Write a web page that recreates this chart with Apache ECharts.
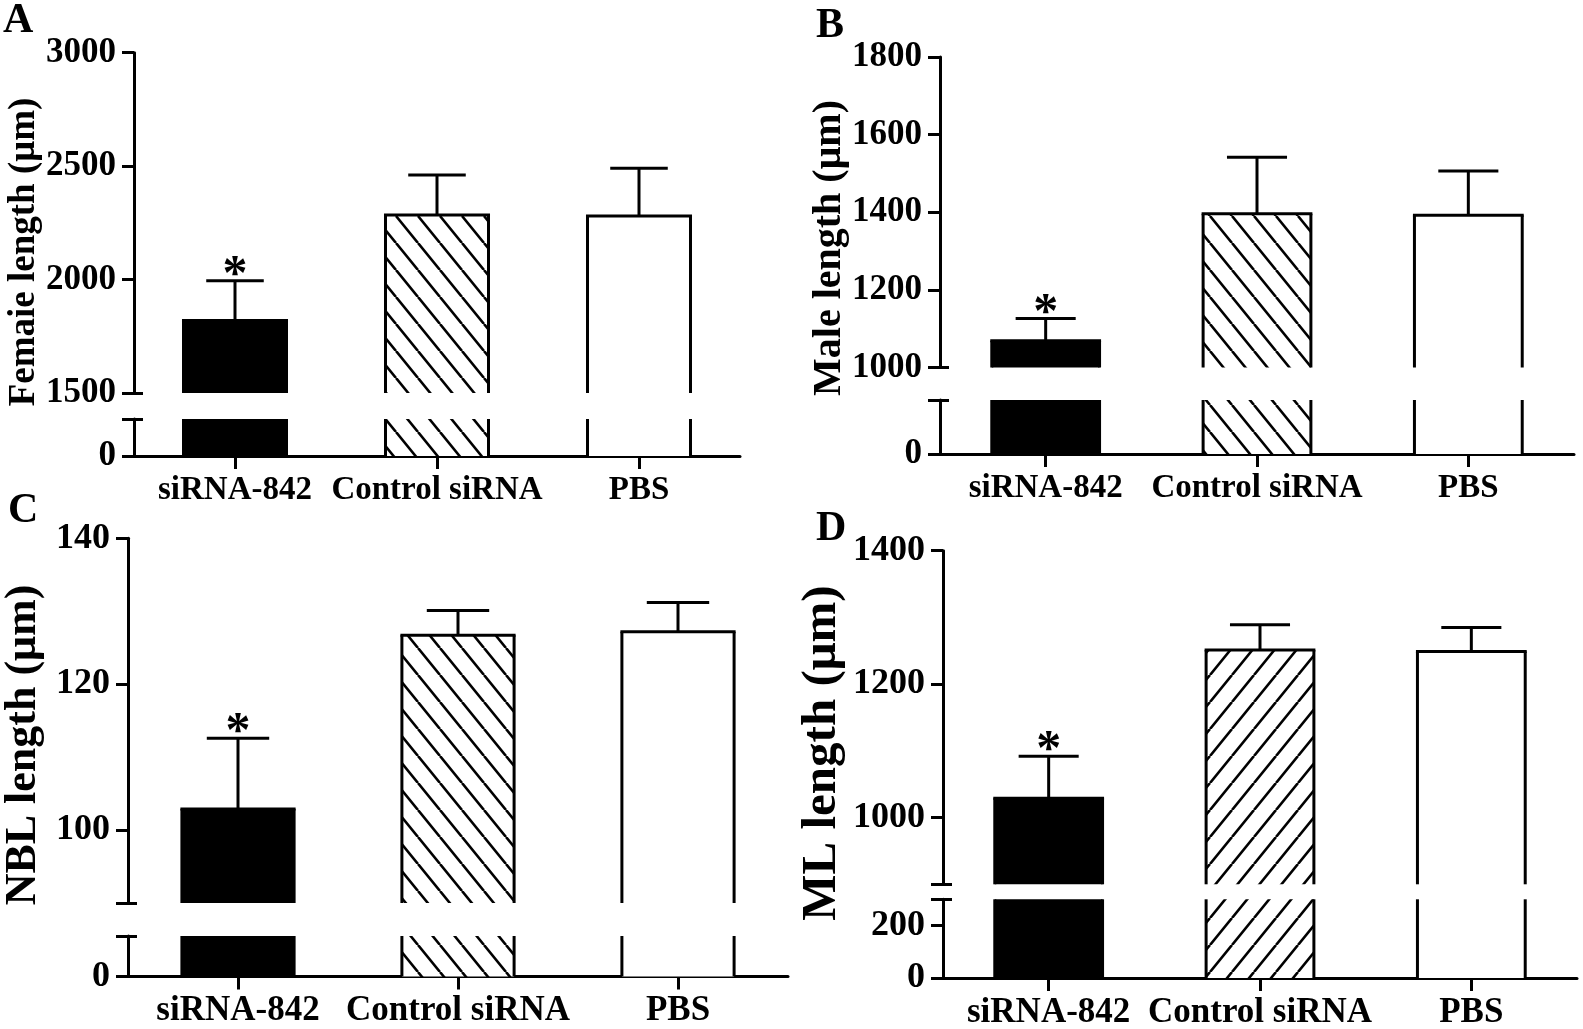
<!DOCTYPE html>
<html><head><meta charset="utf-8">
<script src="https://cdn.jsdelivr.net/npm/echarts@6/dist/echarts.min.js"></script>
<style>html,body{margin:0;padding:0;background:#fff}#c{width:1583px;height:1029px}</style>
</head><body><div id="c"></div>
<script>
// ---------- data ----------
const categories = ['siRNA-842', 'Control siRNA', 'PBS'];
const significance = ['*', '', ''];

const femaleMean = [1820, 2285, 2280];
const femaleSem  = [175, 176, 211];
const femaleUpperTicks = [1500, 2000, 2500, 3000];
const femaleUpperLabels = [1500, 2000, 2500, 3000];
const femaleLowerTicks = [0, 200];
const femaleLowerLabels = [0];

const maleMean = [1069, 1396, 1392];
const maleSem  = [57, 146, 114];
const maleUpperTicks = [1000, 1200, 1400, 1600, 1800];
const maleUpperLabels = [1000, 1200, 1400, 1600, 1800];
const maleLowerTicks = [0, 200];
const maleLowerLabels = [0];

const nblMean = [102.9, 126.7, 127.2];
const nblSem  = [9.7, 3.4, 4.0];
const nblUpperTicks = [90, 100, 120, 140];
const nblUpperLabels = [100, 120, 140];
const nblLowerTicks = [0, 10];
const nblLowerLabels = [0];

const mlMean = [1029, 1251, 1249];
const mlSem  = [63, 38, 36];
const mlUpperTicks = [900, 1000, 1200, 1400];
const mlUpperLabels = [1000, 1200, 1400];
const mlLowerTicks = [0, 200, 300];
const mlLowerLabels = [0, 200];

// ---------- styling ----------
const FONT = '"Liberation Serif", "Times New Roman", serif';

function hatch(dir) {
  const w = 22, h = 27;
  const c = document.createElement('canvas');
  c.width = w; c.height = h;
  const g = c.getContext('2d');
  g.fillStyle = '#fff'; g.fillRect(0, 0, w, h);
  g.strokeStyle = '#000'; g.lineWidth = 2.6;
  for (let k = -1; k <= 1; k++) {
    g.beginPath();
    if (dir === 'back') { g.moveTo(k * w, 0); g.lineTo(k * w + w, h); }
    else { g.moveTo(k * w, h); g.lineTo(k * w + w, 0); }
    g.stroke();
  }
  return c;
}
const backHatch = hatch('back');
const fwdHatch = hatch('fwd');

const panels = [
  {letter: 'A', title: 'Femaie length (μm)', mean: femaleMean, sem: femaleSem,
   up: femaleUpperTicks, upL: femaleUpperLabels, lo: femaleLowerTicks, loL: femaleLowerLabels,
   left: 134, width: 606, upTop: 52.7, upBottom: 393, loTop: 419, loBottom: 456,
   titleX: 24, titleY: 252, titleSize: 37, letterX: 3, letterY: 21, catMargin: 18,
   tickFont: 35, catFont: 33, hatchImg: backHatch},
  {letter: 'B', title: 'Male length (μm)', mean: maleMean, sem: maleSem,
   up: maleUpperTicks, upL: maleUpperLabels, lo: maleLowerTicks, loL: maleLowerLabels,
   left: 940, width: 634, upTop: 57, upBottom: 367.5, loTop: 400, loBottom: 454,
   titleX: 830, titleY: 248, titleSize: 40, letterX: 816, letterY: 26, catMargin: 18,
   tickFont: 35, catFont: 33, hatchImg: backHatch},
  {letter: 'C', title: 'NBL length (μm)', mean: nblMean, sem: nblSem,
   up: nblUpperTicks, upL: nblUpperLabels, lo: nblLowerTicks, loL: nblLowerLabels,
   left: 128, width: 660, upTop: 538.3, upBottom: 903, loTop: 936, loBottom: 976.5,
   titleX: 24, titleY: 745, titleSize: 44, letterX: 8, letterY: 511, catMargin: 17,
   tickFont: 36, catFont: 35, hatchImg: backHatch},
  {letter: 'D', title: 'ML length (μm)', mean: mlMean, sem: mlSem,
   up: mlUpperTicks, upL: mlUpperLabels, lo: mlLowerTicks, loL: mlLowerLabels,
   left: 943, width: 634, upTop: 550.7, upBottom: 884.3, loTop: 899.3, loBottom: 978,
   titleX: 822, titleY: 753, titleSize: 49, letterX: 816, letterY: 529, catMargin: 17,
   tickFont: 36, catFont: 35, hatchImg: fwdHatch}
];

const LINE = {stroke: '#000', lineWidth: 3, lineCap: 'square'};
const BUTT = {stroke: '#000', lineWidth: 3, lineCap: 'butt'};

function barRender(fills) {
  return function (params, api) {
    const i = api.value(0), v = api.value(1);
    const cs = params.coordSys;
    const c = api.coord([i, v]);
    const bw = api.size([1, 0])[0] * 0.51;
    const x0 = c[0] - bw / 2, x1 = c[0] + bw / 2;
    const bottom = cs.y + cs.height;
    const topIn = c[1] >= cs.y;
    const top = topIn ? c[1] : cs.y;
    const ch = [
      {type: 'rect', shape: {x: x0, y: top, width: bw, height: bottom - top}, style: {fill: fills[i]}},
      {type: 'line', shape: {x1: x0, y1: top, x2: x0, y2: bottom}, style: BUTT},
      {type: 'line', shape: {x1: x1, y1: top, x2: x1, y2: bottom}, style: BUTT}
    ];
    if (topIn) ch.push({type: 'line', shape: {x1: x0, y1: top, x2: x1, y2: top}, style: LINE});
    return {type: 'group', children: ch};
  };
}

function errRender() {
  return function (params, api) {
    const i = api.value(0);
    const a = api.coord([i, api.value(1)]);
    const b = api.coord([i, api.value(2)]);
    const cw = api.size([1, 0])[0] * 0.27;
    const ch = [
      {type: 'line', shape: {x1: a[0], y1: a[1], x2: b[0], y2: b[1]}, style: BUTT},
      {type: 'line', shape: {x1: b[0] - cw / 2, y1: b[1], x2: b[0] + cw / 2, y2: b[1]}, style: LINE}
    ];
    const s = significance[i];
    if (s) ch.push({type: 'text', style: {text: s, x: b[0], y: b[1] - 5,
      font: 'bold 50px ' + FONT, align: 'center', verticalAlign: 'middle', fill: '#000'}});
    return {type: 'group', children: ch};
  };
}

const grid = [], xAxis = [], yAxis = [], series = [], graphic = [];
panels.forEach((p, k) => {
  const gu = k * 2, gl = k * 2 + 1;
  grid.push({left: p.left, width: p.width, top: p.upTop, height: p.upBottom - p.upTop, containLabel: false, outerBoundsMode: 'none'});
  grid.push({left: p.left, width: p.width, top: p.loTop, height: p.loBottom - p.loTop, containLabel: false, outerBoundsMode: 'none'});
  xAxis.push({type: 'category', gridIndex: gu, data: categories, show: false});
  xAxis.push({type: 'category', gridIndex: gl, data: categories, boundaryGap: true,
    axisLine: {show: true, onZero: false, lineStyle: {color: '#000', width: 3}},
    axisTick: {show: true, alignWithLabel: true, length: 13, lineStyle: {color: '#000', width: 3}},
    axisLabel: {interval: 0, margin: p.catMargin, color: '#000', fontFamily: FONT, fontWeight: 'bold', fontSize: p.catFont},
    splitLine: {show: false}});
  const upMin = p.up[0], upMax = p.up[p.up.length - 1];
  const loMin = p.lo[0], loMax = p.lo[p.lo.length - 1];
  const mkY = (gi, min, max, ticks, labels) => ({type: 'value', gridIndex: gi, min, max, position: 'left',
    axisLine: {show: true, onZero: false, lineStyle: {color: '#000', width: 3}},
    axisTick: {show: true, length: 12, customValues: ticks, lineStyle: {color: '#000', width: 3}},
    axisLabel: {show: true, customValues: labels, margin: 18, formatter: v => String(v),
      color: '#000', fontFamily: FONT, fontWeight: 'bold', fontSize: p.tickFont},
    splitLine: {show: false}});
  const mkCap = (gi, min, max, v) => ({type: 'value', gridIndex: gi, min, max, position: 'left', offset: 0,
    axisLine: {show: false}, axisLabel: {show: false}, splitLine: {show: false},
    axisTick: {show: true, inside: true, length: 9, customValues: [v], lineStyle: {color: '#000', width: 3}}});
  const yu = yAxis.length;
  yAxis.push(mkY(gu, upMin, upMax, p.up, p.upL));
  const yl = yAxis.length;
  yAxis.push(mkY(gl, loMin, loMax, p.lo, p.loL));
  yAxis.push(mkCap(gu, upMin, upMax, upMin));
  yAxis.push(mkCap(gl, loMin, loMax, loMax));

  const fills = ['#000', {image: p.hatchImg, repeat: 'repeat'}, '#fff'];
  const d = p.mean.map((v, i) => [i, v]);
  series.push({type: 'custom', xAxisIndex: gu, yAxisIndex: yu, data: d, renderItem: barRender(fills), clip: false, z: 3});
  series.push({type: 'custom', xAxisIndex: gl, yAxisIndex: yl, data: d, renderItem: barRender(fills), clip: false, z: 3});
  series.push({type: 'custom', xAxisIndex: gu, yAxisIndex: yu,
    data: p.mean.map((v, i) => [i, v, v + p.sem[i]]), renderItem: errRender(), clip: false, z: 4});

  graphic.push({type: 'text', x: p.letterX, y: p.letterY,
    style: {text: p.letter, font: 'bold 42px ' + FONT, fill: '#000', align: 'left', verticalAlign: 'middle'}});
  graphic.push({type: 'text', x: p.titleX, y: p.titleY, rotation: Math.PI / 2,
    style: {text: p.title, font: 'bold ' + p.titleSize + 'px ' + FONT, fill: '#000', align: 'center', verticalAlign: 'middle'}});
});

const chart = echarts.init(document.getElementById('c'), null, {renderer: 'canvas'});
chart.setOption({animation: false, backgroundColor: '#fff', grid, xAxis, yAxis, series, graphic});
</script></body></html>
